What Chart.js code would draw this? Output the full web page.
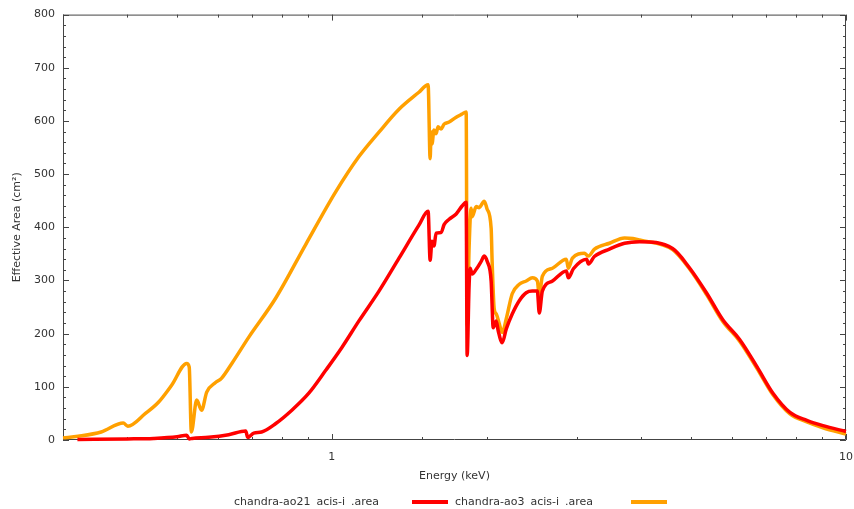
<!DOCTYPE html>
<html lang="en">
<head>
    <meta charset="UTF-8">
    <title>Effective Area</title>
    <style>
        body { margin: 0; background: #fff; }
        #wrap { position: relative; width: 854px; height: 509px; }
        #legend { position: absolute; left: 234px; top: 495px; font: 11px "DejaVu Sans", sans-serif; color: #333; white-space: pre; line-height: 14px; word-spacing: 2.5px; }
        #legend .swatch { display: inline-block; width: 36px; height: 4px; vertical-align: middle; }
    </style>
</head>
<body>
    <script src="https://cdn.jsdelivr.net/npm/chart.js@4"></script>
    <div id="wrap">
        <canvas id="chart" width="854" height="509"></canvas>
        <div id="legend"></div>
    </div>

    <script>
        // chandra-ao21 (red)
        const ao21Energy = [0.32, 0.40, 0.45, 0.50, 0.522, 0.528, 0.535, 0.576, 0.63, 0.68, 0.686, 0.705, 0.73, 0.778, 0.836, 0.902, 0.973, 1.046, 1.129, 1.235, 1.351, 1.477, 1.539,
            1.553, 1.566, 1.58, 1.595, 1.631, 1.653, 1.691, 1.745, 1.792, 1.825, 1.833, 1.849, 1.858, 1.875, 1.909, 1.952, 1.979, 2.005, 2.041, 2.06, 2.088, 2.106, 2.145, 2.184,
            2.243, 2.315, 2.388, 2.454, 2.51, 2.532, 2.567, 2.686, 2.858, 2.884, 2.95, 3.13, 3.155, 3.24, 3.467, 3.709, 3.967, 4.6, 4.96, 5.36, 5.76, 6.21, 6.71, 7.21, 7.78, 8.39, 9.02, 10];
        const ao21Area = [1, 2, 3, 6, 9, 2, 3, 5, 10, 17, 5, 13, 15, 31, 56, 88, 131, 174, 224, 280, 342, 404, 430,
            338, 374, 365, 389, 390, 405, 415, 425, 440, 447, 159, 290, 323, 312, 321, 336, 346, 336, 299, 211, 224, 206, 183, 209,
            237, 262, 277, 280, 280, 239, 280, 299, 318, 305, 322, 340, 331, 345, 359, 370, 373, 360, 324, 276, 226, 189, 138, 88, 52, 37, 27, 16];

        // chandra-ao3 (orange)
        const ao3Energy = [0.30, 0.321, 0.356, 0.393, 0.401, 0.434, 0.46, 0.488, 0.522, 0.528, 0.533, 0.546, 0.558, 0.571, 0.594, 0.61, 0.639, 0.689, 0.778, 0.89, 1.018, 1.129, 1.235, 1.351, 1.477, 1.539,
            1.553, 1.56, 1.566, 1.58, 1.595, 1.609, 1.631, 1.653, 1.691, 1.745, 1.792, 1.825, 1.833, 1.849, 1.866, 1.875, 1.909, 1.934, 1.979, 2.005, 2.041, 2.05, 2.069, 2.088, 2.116, 2.145, 2.184,
            2.243, 2.315, 2.388, 2.454, 2.51, 2.532, 2.567, 2.686, 2.858, 2.884, 2.937, 3.099, 3.155, 3.242, 3.467, 3.709, 3.85, 3.967, 4.6, 4.96, 5.36, 5.76, 6.21, 6.71, 7.21, 7.78, 8.39, 9.02, 10];
        const ao3Area = [4, 7, 15, 32, 26, 50, 71, 103, 144, 137, 15, 75, 56, 90, 108, 116, 144, 193, 267, 368, 467, 533, 579, 622, 654, 668,
            529, 579, 557, 583, 576, 589, 585, 594, 598, 607, 613, 617, 215, 361, 436, 420, 439, 437, 449, 434, 398, 336, 247, 237, 219, 202, 228,
            275, 293, 299, 305, 299, 271, 308, 323, 340, 323, 342, 351, 346, 359, 370, 380, 379, 376, 358, 322, 273, 223, 186, 135, 85, 49, 34, 23, 11];

        const seriesLabels = ["chandra-ao21 acis-i .area", "chandra-ao3 acis-i .area"];
        const seriesColors = ["#ff0000", "#ffa000"];
        const yTicks = [0, 100, 200, 300, 400, 500, 600, 700, 800];
        const xTicks = [1, 10];

        const toPoints = (xs, ys) => xs.map((x, i) => ({ x: x, y: ys[i] }));
        const isDecade = v => Math.abs(Math.log10(v) - Math.round(Math.log10(v))) < 1e-6;
        const font = { family: "DejaVu Sans", size: 11 };

        // inward ticks + box frame
        const frame = {
            id: "frame",
            beforeDatasetsDraw(chart) {
                const { ctx, chartArea: a, scales } = chart;
                ctx.save();
                ctx.strokeStyle = "#444";
                ctx.lineWidth = 1;
                ctx.beginPath();
                ctx.rect(a.left + 0.5, a.top + 0.5, a.right - a.left - 1, a.bottom - a.top - 1);
                ctx.stroke();
                ctx.beginPath();
                scales.y.ticks.forEach(t => {
                    const y = Math.round(scales.y.getPixelForValue(t.value)) + 0.5;
                    const len = t.value % 100 === 0 ? 6 : 3;
                    ctx.moveTo(a.left, y); ctx.lineTo(a.left + len, y);
                    ctx.moveTo(a.right, y); ctx.lineTo(a.right - len, y);
                });
                scales.x.ticks.forEach(t => {
                    const x = Math.round(scales.x.getPixelForValue(t.value)) + 0.5;
                    const len = isDecade(t.value) ? 6 : 3;
                    ctx.moveTo(x, a.bottom); ctx.lineTo(x, a.bottom - len);
                    ctx.moveTo(x, a.top); ctx.lineTo(x, a.top + len);
                });
                ctx.stroke();
                ctx.restore();
            }
        };

        const chart = new Chart(document.getElementById("chart"), {
            type: "line",
            data: {
                datasets: [{
                    label: seriesLabels[0],
                    data: toPoints(ao21Energy, ao21Area),
                    borderColor: seriesColors[0],
                    borderWidth: 3.5,
                    pointRadius: 0,
                    cubicInterpolationMode: "monotone",
                    clip: false
                }, {
                    label: seriesLabels[1],
                    data: toPoints(ao3Energy, ao3Area),
                    borderColor: seriesColors[1],
                    borderWidth: 3.5,
                    pointRadius: 0,
                    cubicInterpolationMode: "monotone",
                    clip: false
                }]
            },
            options: {
                responsive: false,
                animation: false,
                events: [],
                layout: { padding: { top: 12, right: 8, bottom: 22, left: 0 } },
                plugins: { legend: { display: false }, tooltip: { enabled: false } },
                scales: {
                    x: {
                        type: "logarithmic",
                        min: 0.3,
                        max: 10,
                        grid: { display: false, drawTicks: false },
                        border: { display: false },
                        ticks: {
                            font: font, color: "#333", padding: 11, autoSkip: false, maxRotation: 0,
                            callback: v => xTicks.includes(v) ? String(v) : ""
                        },
                        title: { display: true, text: "Energy (keV)", font: font, color: "#333", padding: { top: 4, bottom: 4 } },
                        afterFit: s => { s.height = 47; s.paddingRight = 0; s.paddingLeft = 0; }
                    },
                    y: {
                        min: 0,
                        max: 800,
                        grid: { display: false, drawTicks: false },
                        border: { display: false },
                        ticks: {
                            font: font, color: "#333", padding: 8, stepSize: 20, autoSkip: false,
                            callback: v => yTicks.includes(v) ? String(v) : ""
                        },
                        title: { display: true, text: "Effective Area (cm²)", font: font, color: "#333", padding: { top: 11, bottom: 4 } },
                        afterFit: s => { s.width = 63; }
                    }
                }
            },
            plugins: [frame]
        });

        // legend: label text followed by line sample
        const legend = document.getElementById("legend");
        const gaps = [[0, 33], [7, 38]];
        chart.data.datasets.forEach((ds, i) => {
            const t = document.createElement("span");
            t.textContent = ds.label;
            t.style.marginLeft = gaps[i][0] + "px";
            const sw = document.createElement("span");
            sw.className = "swatch";
            sw.style.background = ds.borderColor;
            sw.style.marginLeft = gaps[i][1] + "px";
            legend.appendChild(t);
            legend.appendChild(sw);
        });
    </script>
</body>
</html>
